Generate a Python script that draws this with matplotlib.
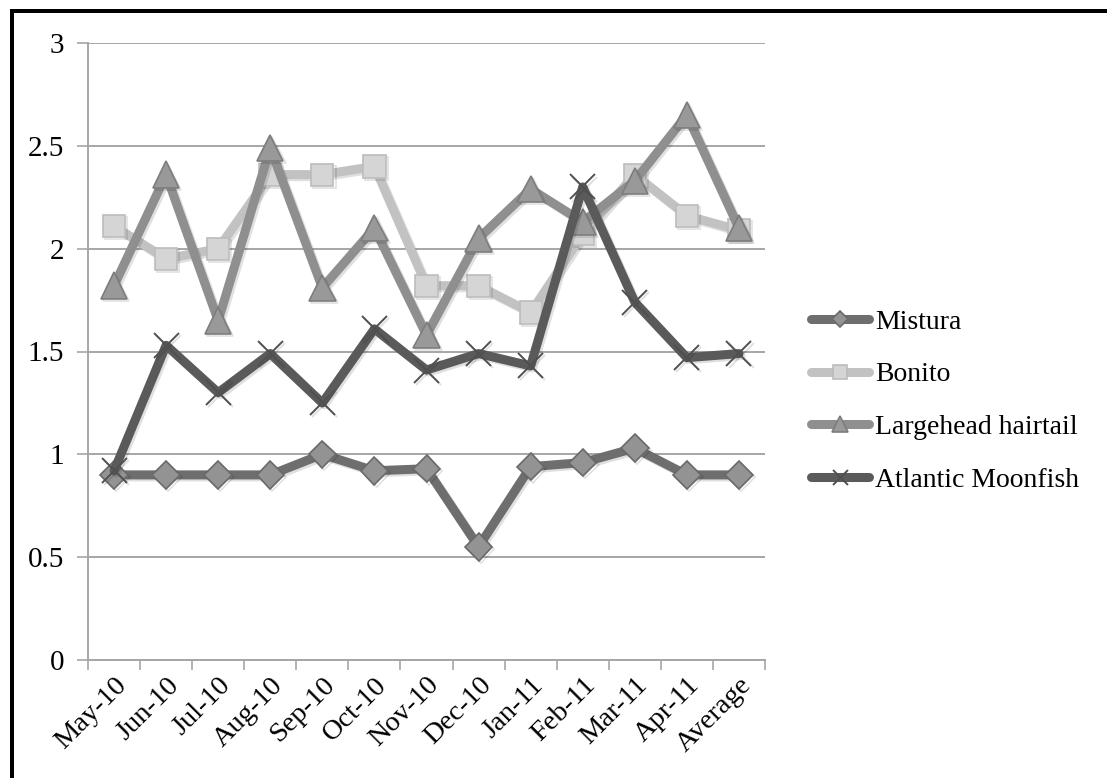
import matplotlib
matplotlib.use("Agg")
import matplotlib.pyplot as plt
import matplotlib.patheffects as pe
from matplotlib.patches import Rectangle

months = ["May-10", "Jun-10", "Jul-10", "Aug-10", "Sep-10", "Oct-10", "Nov-10",
          "Dec-10", "Jan-11", "Feb-11", "Mar-11", "Apr-11", "Average"]

mistura = [0.90, 0.90, 0.90, 0.90, 1.00, 0.92, 0.93, 0.55, 0.94, 0.96, 1.03, 0.90, 0.90]
bonito = [2.11, 1.95, 2.00, 2.36, 2.36, 2.40, 1.82, 1.82, 1.69, 2.07, 2.36, 2.16, 2.09]
hairtail = [1.82, 2.36, 1.65, 2.49, 1.81, 2.10, 1.58, 2.05, 2.29, 2.13, 2.33, 2.65, 2.10]
moonfish = [0.92, 1.53, 1.30, 1.49, 1.25, 1.61, 1.41, 1.49, 1.43, 2.30, 1.74, 1.47, 1.49]

series_names = ["Mistura", "Bonito", "Largehead hairtail", "Atlantic Moonfish"]

plt.rcParams["font.family"] = ["Liberation Serif", "DejaVu Serif"]

fig = plt.figure(figsize=(11.07, 7.78), dpi=100)
fig.patch.set_facecolor("white")

# frame edges on the top and left of the image
fig.add_artist(Rectangle((10 / 1107, 0), 4 / 1107, 1 - 9 / 778,
                         transform=fig.transFigure, color="black", lw=0))
fig.add_artist(Rectangle((10 / 1107, 1 - 13 / 778), 1 - 10 / 1107, 4 / 778,
                         transform=fig.transFigure, color="black", lw=0))

ax = fig.add_axes([88 / 1107, 1 - 660 / 778, (765 - 88) / 1107, (660 - 43) / 778])

x = list(range(len(months)))
shadow = [pe.SimpleLineShadow(offset=(1.5, -1.5), shadow_color="black", alpha=0.12), pe.Normal()]

styles = [
    dict(color="#6e6e6e", marker="D", ms=14, mfc="#939393", mec="#6a6a6a", mew=1.2),
    dict(color="#c2c2c2", marker="s", ms=16, mfc="#d5d5d5", mec="#bcbcbc", mew=1.2),
    dict(color="#8f8f8f", marker="^", ms=19, mfc="#999999", mec="#7d7d7d", mew=1.2),
    dict(color="#5a5a5a", marker="x", ms=18, mfc="none", mec="#505050", mew=1.4),
]

for vals, name, st in zip([mistura, bonito, hairtail, moonfish], series_names, styles):
    ax.plot(x, vals, lw=6.5, label=name, solid_capstyle="round", solid_joinstyle="round",
            path_effects=shadow, zorder=3, **st)

ax.set_xlim(-0.5, len(months) - 0.5)
ax.set_ylim(0, 3)
ax.set_yticks([0, 0.5, 1, 1.5, 2, 2.5, 3])
ax.set_yticklabels(["0", "0.5", "1", "1.5", "2", "2.5", "3"])
ax.yaxis.grid(True, color="#a6a6a6", lw=1.4)
ax.set_axisbelow(True)

ax.set_xticks([i - 0.5 for i in range(len(months) + 1)])
ax.set_xticklabels([])
ax.set_xticks(x, minor=True)
ax.set_xticklabels(months, minor=True, rotation=45, ha="right", rotation_mode="anchor",
                   fontsize=20.5)
ax.tick_params(axis="x", which="major", length=7, width=1.2, color="#a6a6a6", direction="out")
ax.tick_params(axis="x", which="minor", length=0, pad=9)
ax.tick_params(axis="y", length=8, width=1.2, color="#a6a6a6", labelsize=21, pad=9)

for side in ("top", "right"):
    ax.spines[side].set_visible(False)
ax.spines["left"].set_color("#a6a6a6")
ax.spines["left"].set_linewidth(1.4)
ax.spines["bottom"].set_color("#a6a6a6")
ax.spines["bottom"].set_linewidth(1.4)

leg = ax.legend(loc="center left", bbox_to_anchor=(800 / 1107, 1 - 401 / 778),
                bbox_transform=fig.transFigure, frameon=False, fontsize=20,
                handlelength=2.1, handletextpad=0.2, labelspacing=0.98, markerscale=0.6,
                borderaxespad=0)
for line in leg.get_lines():
    line.set_path_effects([])

fig.savefig("out.png", dpi=100, facecolor="white")
